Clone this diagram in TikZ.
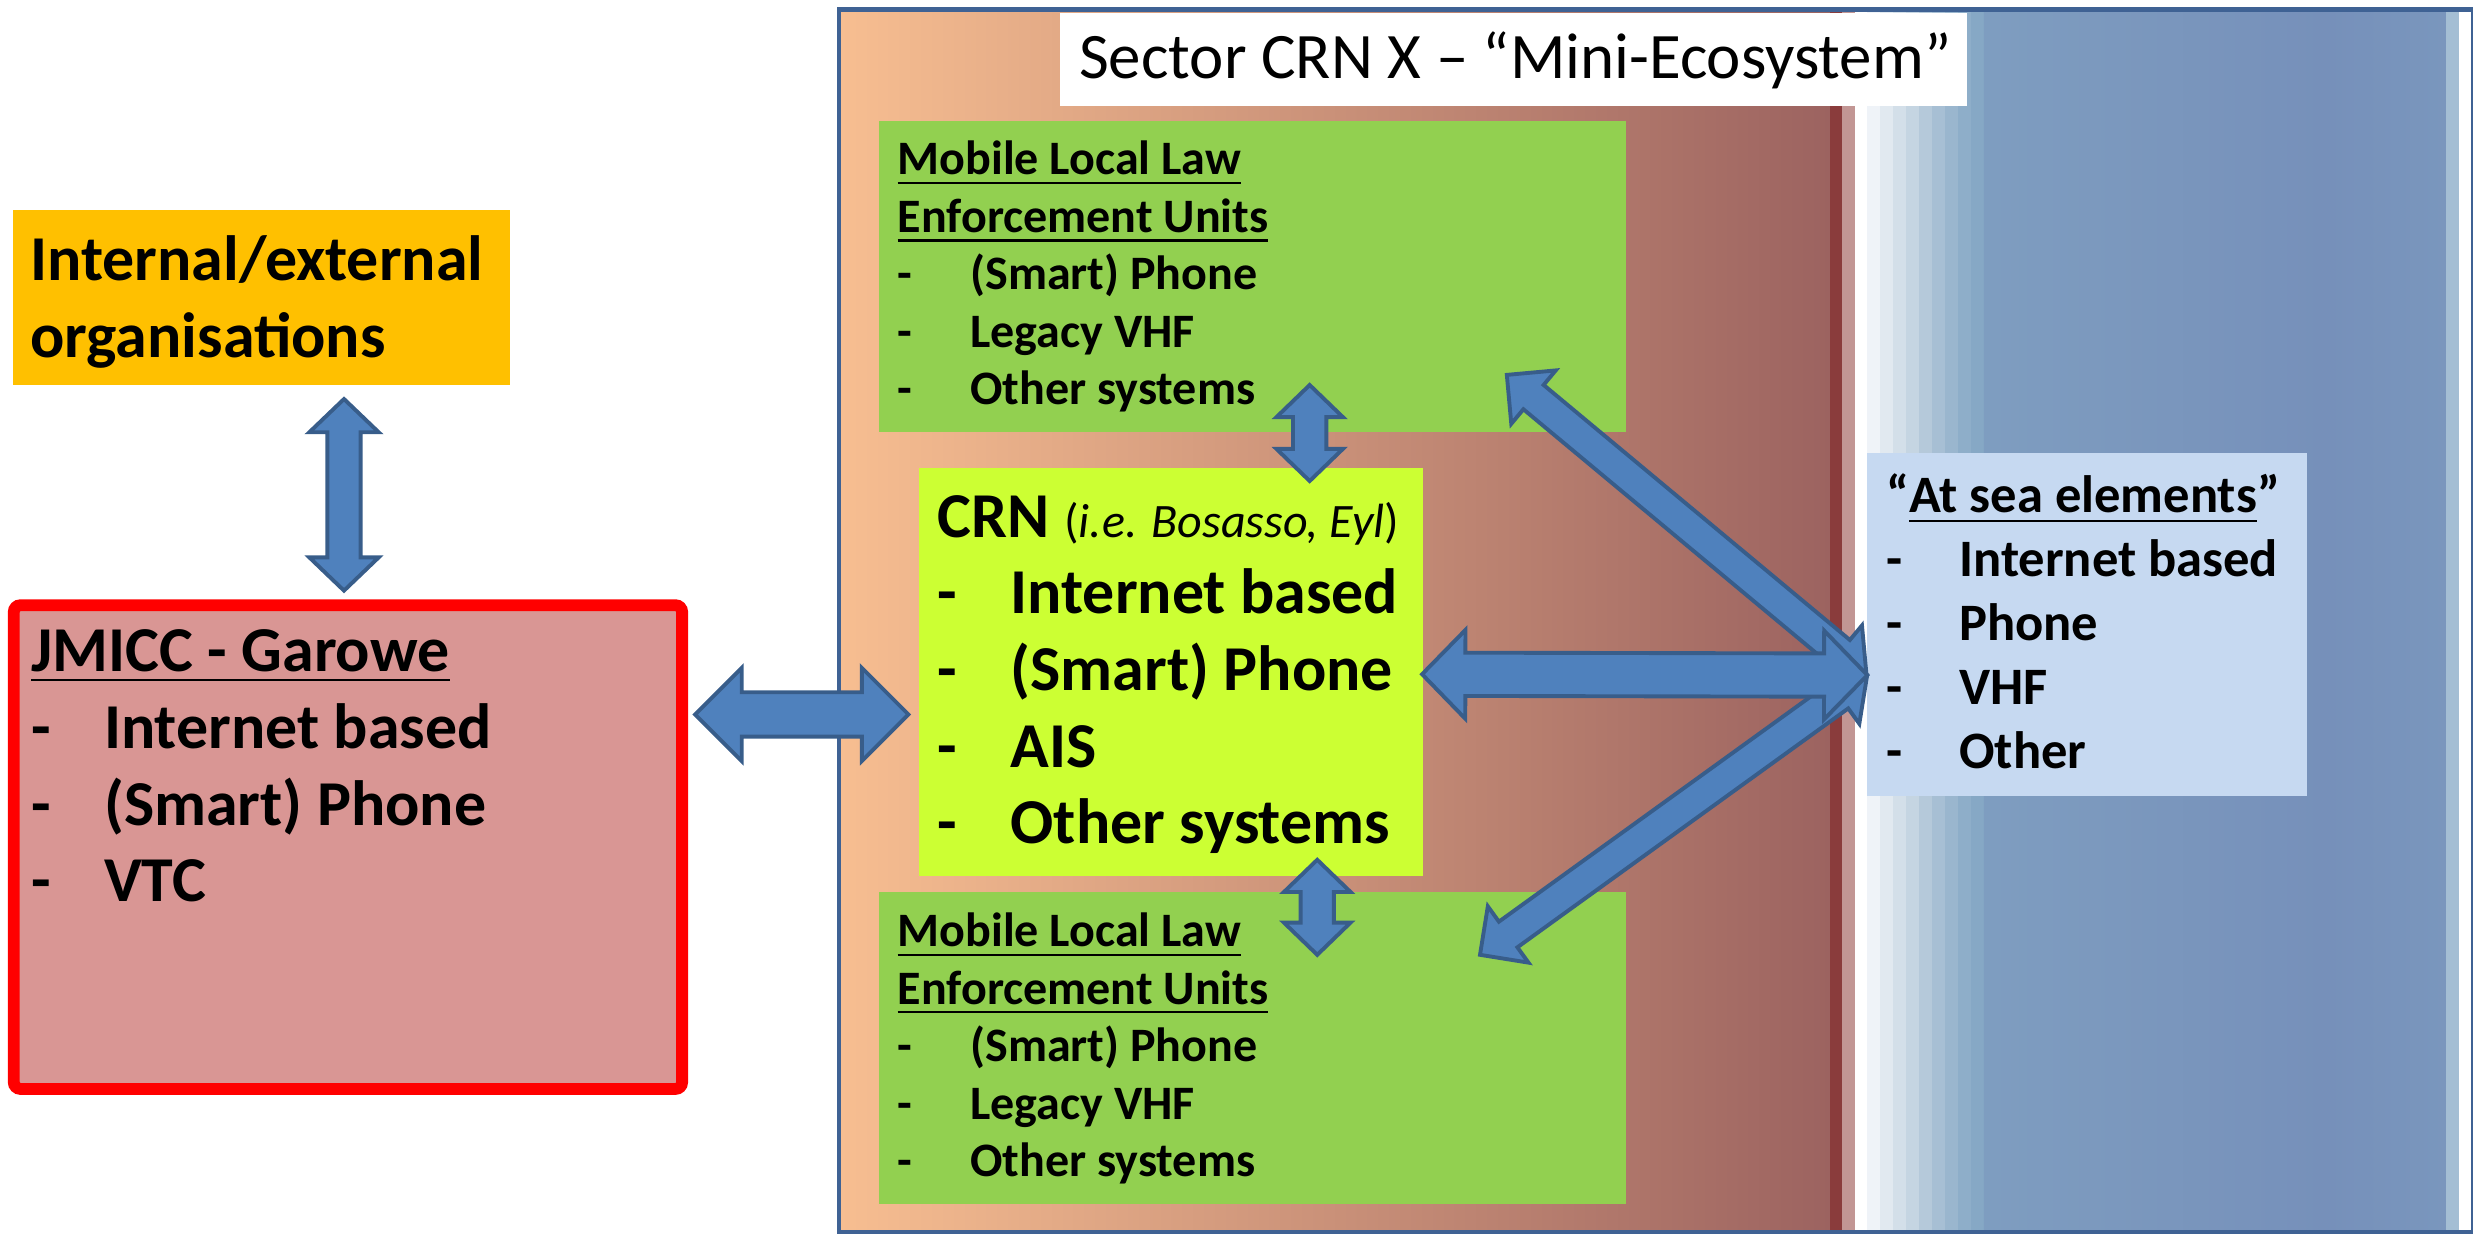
\documentclass[tikz,border=0pt]{standalone}
\usepackage{fontspec}
\setmainfont{Carlito}
\usetikzlibrary{calc}

\definecolor{orgfill}{HTML}{FFC000}
\definecolor{jmiccfill}{HTML}{D99694}
\definecolor{lawfill}{HTML}{92D050}
\definecolor{crnfill}{HTML}{CCFF33}
\definecolor{seafill}{HTML}{C6D9F1}
\definecolor{arrowfill}{HTML}{4F81BD}
\definecolor{arrowline}{HTML}{385D8A}
\definecolor{sectorline}{HTML}{3F6294}
\definecolor{peachL}{HTML}{F7BE91}
\definecolor{peachR}{HTML}{9C6360}
\definecolor{shoreA}{HTML}{8A3C3C}
\definecolor{shoreB}{HTML}{C29694}
\definecolor{seaL}{HTML}{84A6C4}
\definecolor{seaM}{HTML}{7690BA}
\definecolor{seaR}{HTML}{81A3C3}
\definecolor{seaedge}{HTML}{A4BED4}

\pgfdeclarehorizontalshading{seashade}{100bp}{color(0bp)=(seaL); color(62bp)=(seaM); color(100bp)=(seaR)}

\tikzset{
    box/.style={anchor=north west, inner sep=0pt, outer sep=0pt},
    bigtext/.style={anchor=base west, inner sep=0pt, align=left, font=\fontsize{11.53pt}{13.83pt}\selectfont\bfseries},
    smalltext/.style={anchor=base west, inner sep=0pt, align=left, font=\fontsize{8.66pt}{10.36pt}\selectfont\bfseries},
    seatext/.style={anchor=base west, inner sep=0pt, align=left, font=\fontsize{9.48pt}{11.52pt}\selectfont\bfseries},
    titletext/.style={anchor=base west, inner sep=0pt, font=\fontsize{11.7pt}{13.9pt}\selectfont},
    blockarrow/.style={draw=arrowline, fill=arrowfill, line width=0.7pt, line join=miter},
}

% list item: dash and tab
\newcommand{\itm}{\makebox[13.1pt][l]{-}}

% double block arrow: from, to, shaft half width, head half width, head length
\newcommand{\dblarrow}[5]{%
    \path[blockarrow] let \p1=(#1), \p2=(#2),
        \n1={atan2(\y2-\y1,\x2-\x1)}, \n2={veclen(\x2-\x1,\y2-\y1)} in
        [shift={(\p1)}, rotate=\n1]
        (0pt,0pt) -- (#5,#4) -- (#5,#3) -- ({\n2-#5},#3) -- ({\n2-#5},#4) -- (\n2,0pt)
        -- ({\n2-#5},-#4) -- ({\n2-#5},-#3) -- (#5,-#3) -- (#5,-#4) -- cycle;
}

\begin{document}
\begin{tikzpicture}[x=0.01cm, y=-0.01cm]
    \useasboundingbox (0,0) rectangle (1568,782);

    % Sector background (land, shore, sea)
    \fill[left color=peachL, right color=peachR] (532,6) rectangle (1160,781);
    \fill[shoreA] (1160,6) rectangle (1168,781);
    \fill[shoreB] (1168,6) rectangle (1176,781);
    \foreach \c [count=\i from 0] in {EFF3F8,E1E9F0,D3DFE9,C5D5E2,B5C9DA,A7BFD4,9AB6CE,8EAEC9,86A8C5} {
        \definecolor{seastep}{HTML}{\c}
        \fill[seastep] ({1184+8.2*\i},6) rectangle ({1184.6+8.2*(\i+1)},781);
    }
    \fill[shading=seashade] (1257.8,6) rectangle (1551,781);
    \fill[seaedge] (1551,6) rectangle (1559.3,781);
    \draw[sectorline, line width=0.85pt] (532,6) rectangle (1568.5,781.5);

    % Left side (2 boxes)
    \node[box, fill=orgfill, minimum width=3.15cm, minimum height=1.11cm] (org) at (8,133) {};
    \node[box, fill=jmiccfill, draw=red, line width=2.13pt, rounded corners=1.2pt,
          minimum width=4.235cm, minimum height=3.065cm] (jmicc) at (8.75,383.75) {};

    % Sector boxes
    \node[box, fill=white, minimum width=5.75cm, minimum height=0.59cm] (title) at (672,8) {};
    \node[box, fill=lawfill, minimum width=4.731cm, minimum height=1.97cm] (lawtop) at (557.5,76.7) {};
    \node[box, fill=crnfill, minimum width=3.19cm, minimum height=2.58cm] (crn) at (583,297) {};
    \node[box, fill=lawfill, minimum width=4.731cm, minimum height=1.972cm] (lawbot) at (557.5,565.8) {};
    \node[box, fill=seafill, minimum width=2.783cm, minimum height=2.17cm] (sea) at (1184,287.5) {};

    % Texts (anchored at the baseline of their last line)
    \node[bigtext] (orgtext) at ($(org.north west)+(10.5,93.6)$) {Internal/external\\organisations};
    \node[bigtext] (jmicctext) at ($(jmicc.north west)+(10.5,188)$)
        {\underline{JMICC - Garowe}\\\itm Internet based\\\itm (Smart) Phone\\\itm VTC};
    \node[titletext] (titletext) at ($(title.north west)+(11.5,41.5)$) {Sector CRN X – “Mini-Ecosystem”};
    \node[smalltext] (lawtoptext) at ($(lawtop.north west)+(11,179.9)$)
        {\underline{Mobile Local Law}\\\underline{Enforcement Units}\\\itm (Smart) Phone\\\itm Legacy VHF\\\itm Other systems};
    \node[bigtext] (crntext) at ($(crn.north west)+(11,238.1)$)
        {CRN {\fontsize{8.66pt}{10.36pt}\selectfont\mdseries(\textit{i.e. Bosasso, Eyl})}\\\itm Internet based\\\itm (Smart) Phone\\\itm AIS\\\itm Other systems};
    \node[smalltext] (lawbottext) at ($(lawbot.north west)+(11,180.2)$)
        {\underline{Mobile Local Law}\\\underline{Enforcement Units}\\\itm (Smart) Phone\\\itm Legacy VHF\\\itm Other systems};
    \node[seatext] (seatext) at ($(sea.north west)+(11.5,199.5)$)
        {“\underline{At sea elements}”\\\itm Internet based\\\itm Phone\\\itm VHF\\\itm Other};

    % Arrow ends
    \coordinate (orgA) at ($(jmicc.north)+(-2.5,-130.75)$);
    \coordinate (jmiccA) at ($(jmicc.north)+(-2.5,-9.25)$);
    \coordinate (jmiccB) at ($(jmicc.north east)+(8.25,69.25)$);
    \coordinate (crnA) at ($(crn.north west)+(-7,156)$);
    \coordinate (lawtopA) at ($(lawtop.south west)+(272.9,-29.7)$);
    \coordinate (lawtopB) at ($(lawtop.north west)+(397.9,161)$);
    \coordinate (crnT) at ($(crn.north west)+(247.4,8)$);
    \coordinate (crnB) at ($(crn.south west)+(252.2,-10)$);
    \coordinate (crnC) at ($(crn.north east)+(-0.5,130.5)$);
    \coordinate (lawbotA) at ($(lawbot.north west)+(277.7,39.6)$);
    \coordinate (lawbotB) at ($(lawbot.north west)+(380.9,39.6)$);
    \coordinate (seaA) at ($(sea.west)+(0,32)$);

    % Connect left side
    \dblarrow{orgA}{jmiccA}{3pt}{6.26pt}{6pt}
    \dblarrow{jmiccB}{crnA}{4pt}{8.4pt}{8.4pt}

    % Connect CRN to units and sea
    \dblarrow{lawtopA}{crnT}{3pt}{6pt}{5.8pt}
    \dblarrow{crnB}{lawbotA}{3pt}{6pt}{5.8pt}
    \dblarrow{lawtopB}{seaA}{2.85pt}{6.26pt}{6.26pt}
    \dblarrow{lawbotB}{seaA}{2.85pt}{6.26pt}{6.26pt}
    \dblarrow{crnC}{seaA}{3.9pt}{8pt}{7.8pt}
\end{tikzpicture}
\end{document}
